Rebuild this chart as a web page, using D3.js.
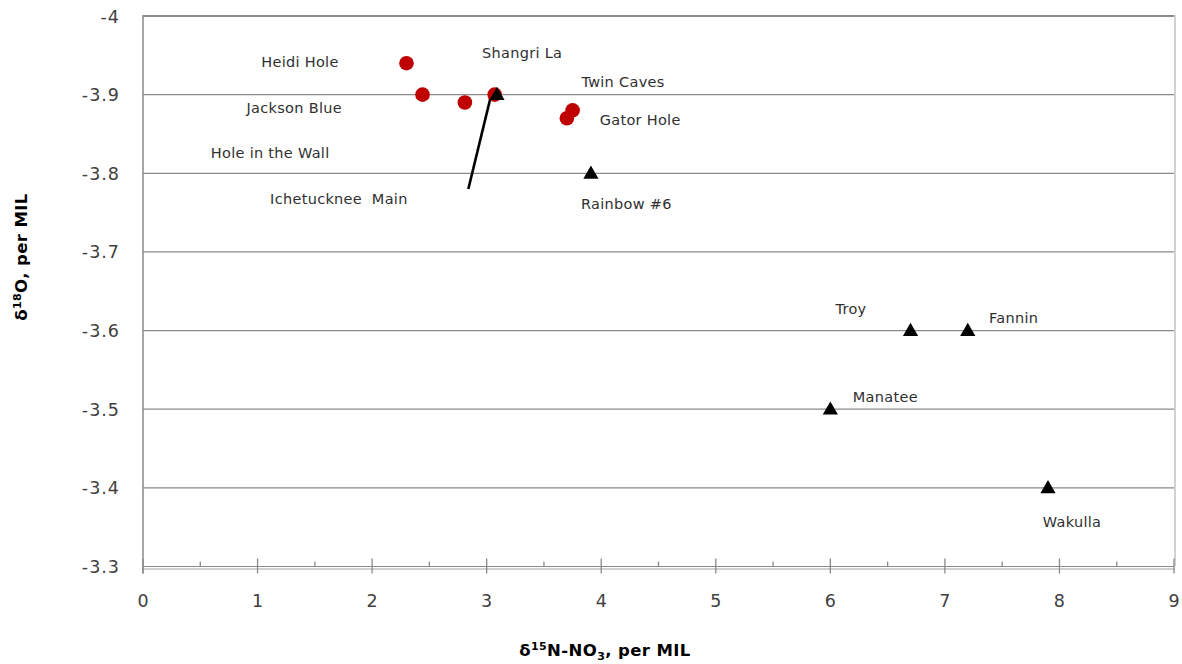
<!DOCTYPE html>
<html>
<head>
<meta charset="utf-8">
<script src="https://cdn.jsdelivr.net/npm/d3@7"></script>
<style>
  html, body { margin: 0; padding: 0; background: #ffffff; }
  svg { display: block; }
</style>
</head>
<body>
<svg id="chart" width="1182" height="664"></svg>
<script>
// Nitrate isotope values at spring sites
const circleX = [2.30, 2.44, 2.81, 3.07, 3.70, 3.75];
const circleY = [-3.94, -3.90, -3.89, -3.90, -3.87, -3.88];

const triangleX = [3.09, 3.91, 6.70, 7.20, 6.00, 7.90];
const triangleY = [-3.90, -3.80, -3.60, -3.60, -3.50, -3.40];

const segmentX = [2.84, 3.04];
const segmentY = [-3.78, -3.90];

const siteNames = ["Heidi Hole", "Shangri La", "Twin Caves", "Jackson Blue", "Gator Hole",
  "Hole in the Wall", "Ichetucknee  Main", "Rainbow #6", "Troy", "Fannin", "Manatee", "Wakulla"];
const siteLabelX = [1.37, 3.31, 4.19, 1.32, 4.34, 1.11, 1.71, 4.22, 6.18, 7.60, 6.48, 8.11];
const siteLabelY = [-3.941, -3.953, -3.916, -3.883, -3.868, -3.826, -3.767, -3.761, -3.628, -3.616, -3.515, -3.357];

const xTicks = [0, 1, 2, 3, 4, 5, 6, 7, 8, 9];
const xMinorTicks = [0.5, 1.5, 2.5, 3.5, 4.5, 5.5, 6.5, 7.5, 8.5];
const yTicks = [-4, -3.9, -3.8, -3.7, -3.6, -3.5, -3.4, -3.3];
const yTickLabels = ["-4", "-3.9", "-3.8", "-3.7", "-3.6", "-3.5", "-3.4", "-3.3"];

const svg = d3.select("#chart");
const plotLeft = 143, plotRight = 1174, plotTop = 16, plotBottom = 566.5;

const x = d3.scaleLinear().domain([0, 9]).range([plotLeft, plotRight]);
const y = d3.scaleLinear().domain([-4, -3.3]).range([plotTop, plotBottom]);

const gridColor = "#8a8a8a";
const tickFont = "'DejaVu Sans', sans-serif";

// horizontal gridlines
svg.append("g")
  .selectAll("line")
  .data(yTicks)
  .join("line")
  .attr("x1", plotLeft).attr("x2", plotRight)
  .attr("y1", d => y(d)).attr("y2", d => y(d))
  .attr("stroke", gridColor)
  .attr("stroke-width", d => d === -4 ? 2 : 1.2);

// right border
svg.append("line")
  .attr("x1", plotRight + 1).attr("x2", plotRight + 1)
  .attr("y1", plotTop - 1).attr("y2", plotBottom)
  .attr("stroke", "#b8b8b8").attr("stroke-width", 1.3);

// x axis (second thin line under the last gridline)
const xAxis = svg.append("g")
  .attr("transform", `translate(0,${plotBottom + 2})`)
  .call(d3.axisBottom(x).tickValues(xTicks).tickSize(0).tickFormat(""));
xAxis.select(".domain").attr("stroke", "#a0a0a0").attr("stroke-width", 1);

svg.append("g")
  .selectAll("line")
  .data(xTicks)
  .join("line")
  .attr("x1", d => x(d)).attr("x2", d => x(d))
  .attr("y1", plotBottom - 8).attr("y2", plotBottom + 7)
  .attr("stroke", gridColor).attr("stroke-width", 1.3);

svg.append("g")
  .selectAll("line")
  .data(xMinorTicks)
  .join("line")
  .attr("x1", d => x(d)).attr("x2", d => x(d))
  .attr("y1", plotBottom - 5).attr("y2", plotBottom)
  .attr("stroke", gridColor).attr("stroke-width", 1.3);

svg.append("g")
  .selectAll("text")
  .data(xTicks)
  .join("text")
  .attr("x", d => x(d))
  .attr("y", plotBottom + 40)
  .attr("text-anchor", "middle")
  .attr("font-family", tickFont)
  .attr("font-size", 17.5)
  .attr("fill", "#404040")
  .text(d => d);

// y axis
svg.append("line")
  .attr("x1", plotLeft).attr("x2", plotLeft)
  .attr("y1", plotTop - 1).attr("y2", plotBottom + 7)
  .attr("stroke", gridColor).attr("stroke-width", 1.5);

svg.append("g")
  .selectAll("text")
  .data(yTicks)
  .join("text")
  .attr("x", plotLeft - 23)
  .attr("y", d => y(d) + 6.5)
  .attr("text-anchor", "end")
  .attr("font-family", tickFont)
  .attr("font-size", 17.5)
  .attr("letter-spacing", 1)
  .attr("fill", "#404040")
  .text((d, i) => yTickLabels[i]);

// trend segment
svg.append("path")
  .datum(segmentX.map((v, i) => [v, segmentY[i]]))
  .attr("d", d3.line().x(d => x(d[0])).y(d => y(d[1])))
  .attr("fill", "none")
  .attr("stroke", "#000")
  .attr("stroke-width", 2.6);

// red circles
svg.append("g")
  .selectAll("circle")
  .data(circleX.map((v, i) => [v, circleY[i]]))
  .join("circle")
  .attr("cx", d => x(d[0]))
  .attr("cy", d => y(d[1]))
  .attr("r", 7.3)
  .attr("fill", "#c00000");

// black triangles
const tri = d3.symbol().type(d3.symbolTriangle).size(100);
svg.append("g")
  .selectAll("path")
  .data(triangleX.map((v, i) => [v, triangleY[i]]))
  .join("path")
  .attr("transform", d => `translate(${x(d[0])},${y(d[1]) + 1})`)
  .attr("d", tri)
  .attr("fill", "#000");

// site labels
svg.append("g")
  .selectAll("text")
  .data(siteNames.map((n, i) => ({ n, lx: siteLabelX[i], ly: siteLabelY[i] })))
  .join("text")
  .attr("x", d => x(d.lx))
  .attr("y", d => y(d.ly) + 5)
  .attr("text-anchor", "middle")
  .attr("font-family", tickFont)
  .attr("font-size", 14.5)
  .attr("letter-spacing", 0.3)
  .attr("fill", "#303030")
  .style("white-space", "pre")
  .text(d => d.n);

// axis titles
const titleFont = "'DejaVu Sans', sans-serif";
const xTitle = svg.append("text")
  .attr("x", 605)
  .attr("y", 656)
  .attr("text-anchor", "middle")
  .attr("font-family", titleFont)
  .attr("font-weight", "bold")
  .attr("font-size", 16.5)
  .attr("letter-spacing", 0.4)
  .attr("fill", "#000");
xTitle.append("tspan").text("δ");
xTitle.append("tspan").attr("font-size", 11).attr("dy", -6).text("15");
xTitle.append("tspan").attr("dy", 6).text("N-NO");
xTitle.append("tspan").attr("font-size", 11).attr("dy", 4).text("3");
xTitle.append("tspan").attr("dy", -4).text(", per MIL");

const yTitle = svg.append("text")
  .attr("transform", "translate(27,257) rotate(-90)")
  .attr("text-anchor", "middle")
  .attr("font-family", titleFont)
  .attr("font-weight", "bold")
  .attr("font-size", 16.5)
  .attr("letter-spacing", 0.4)
  .attr("fill", "#000");
yTitle.append("tspan").text("δ");
yTitle.append("tspan").attr("font-size", 11).attr("dy", -6).text("18");
yTitle.append("tspan").attr("dy", 6).text("O, per MIL");
</script>
</body>
</html>
